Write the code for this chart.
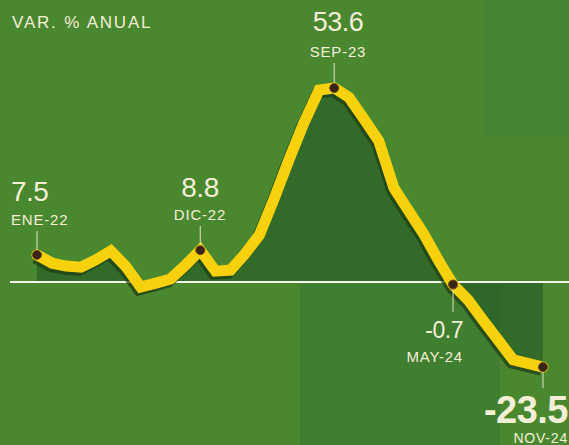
<!DOCTYPE html>
<html>
<head>
<meta charset="utf-8">
<script src="https://cdn.jsdelivr.net/npm/d3@7"></script>
<style>
  body { margin: 0; background: #4a8830; }
  svg { display: block; }
  .lbl { fill: #f3efd6; font-family: "Liberation Sans", Arial, sans-serif; }
</style>
</head>
<body>
<div id="chart"></div>
<script>
// Set height and width for svg
var svgWidth = 569;
var svgHeight = 445;

// Months from ENE-22 to NOV-24
var months = d3.timeMonth.range(new Date(2022, 0, 1), new Date(2024, 11, 1));

// annual % change
var values = [
  7.5, 5.2, 4.4, 4.1, 6.1, 8.6, 4.4, -1.4, -0.3, 0.8, 4.7, 8.8,
  3.0, 3.3, 7.5, 13.0, 23.0, 34.0, 44.0, 53.0, 53.6, 51.0, 45.0, 39.0,
  26.0, 19.5, 13.5, 6.0, -0.7, -5.0, -10.5, -16.0, -21.5, -22.5, -23.5
];

// labelled points
var callIdx = [0, 11, 20, 28, 34];
var callVal = ["7.5", "8.8", "53.6", "-0.7", "-23.5"];
var callMonth = ["ENE-22", "DIC-22", "SEP-23", "MAY-24", "NOV-24"];

var data = months.map(function(m, i) {
  return { date: m, value: values[i] };
});

var svg = d3
  .select("#chart")
  .append("svg")
  .attr("width", svgWidth)
  .attr("height", svgHeight);

// scanned-paper background blocks
svg.append("rect").attr("width", svgWidth).attr("height", svgHeight).attr("fill", "#4a8830");
svg.append("rect").attr("x", 485).attr("y", 0).attr("width", 84).attr("height", 135)
  .attr("fill", "#3f7e3a").attr("opacity", 0.5);
svg.append("rect").attr("x", 300).attr("y", 284).attr("width", 200).attr("height", 161)
  .attr("fill", "#3a7832").attr("opacity", 0.6);

// scales
var xScale = d3
  .scaleTime()
  .domain([months[0], months[months.length - 1]])
  .range([37, 543]);

var yScale = d3
  .scaleLinear()
  .domain([-30, 60])
  .range([390.6, 64.8]);

var area = d3
  .area()
  .x(d => xScale(d.date))
  .y0(yScale(0))
  .y1(d => yScale(d.value));

var line = d3
  .line()
  .x(d => xScale(d.date))
  .y(d => yScale(d.value));

// darker fill between curve and zero
svg.append("path")
  .datum(data)
  .attr("d", area)
  .attr("fill", "#1f5424")
  .attr("opacity", 0.55);

// zero line
svg.append("line")
  .attr("x1", 10)
  .attr("x2", svgWidth)
  .attr("y1", yScale(0))
  .attr("y2", yScale(0))
  .attr("stroke", "#f4f4ec")
  .attr("stroke-width", 2);

// shadow + yellow line
svg.append("path")
  .datum(data)
  .attr("d", line)
  .attr("transform", "translate(-2, 3)")
  .attr("fill", "none")
  .attr("stroke", "#1c3a12")
  .attr("stroke-width", 11)
  .attr("stroke-linejoin", "miter")
  .attr("opacity", 0.7);

svg.append("path")
  .datum(data)
  .attr("d", line)
  .attr("fill", "none")
  .attr("stroke", "#f6d10c")
  .attr("stroke-width", 11)
  .attr("stroke-linejoin", "miter")
  .attr("stroke-linecap", "round");

// callouts
var calls = callIdx.map(function(idx, i) {
  return { d: data[idx], val: callVal[i], month: callMonth[i] };
});

// positions of each callout text
var callPos = [
  { anchor: "start", x: 11, num: 201, mon: 225, size: 28, lead: 210 },
  { anchor: "middle", x: 200, num: 197, mon: 220, size: 28, lead: 206 },
  { anchor: "middle", x: 338, num: 31, mon: 57, size: 27, lead: 63 },
  { anchor: "end", x: 463, num: 338, mon: 362, size: 23, lead: 312 },
  { anchor: "end", x: 568, num: 423, mon: 443, size: 38, lead: 388 }
];

calls.forEach(function(c, i) {
  var p = callPos[i];
  var cx = xScale(c.d.date);
  var cy = yScale(c.d.value);

  // leader line
  svg.append("line")
    .attr("x1", cx)
    .attr("x2", cx)
    .attr("y1", i < 3 ? p.mon + 6 : cy + 5)
    .attr("y2", i < 3 ? cy - 4 : p.lead)
    .attr("stroke", "#e8e4cc")
    .attr("stroke-width", 1.2)
    .attr("opacity", 0.8);

  svg.append("circle")
    .attr("cx", cx)
    .attr("cy", cy)
    .attr("r", 4.5)
    .attr("fill", "#3a2418")
    .attr("stroke", "#6b4a20")
    .attr("stroke-width", 1);

  svg.append("text")
    .attr("class", "lbl")
    .attr("x", p.x)
    .attr("y", p.num)
    .attr("text-anchor", p.anchor)
    .attr("font-size", p.size)
    .attr("font-weight", i === 4 ? "bold" : "normal")
    .attr("letter-spacing", -0.5)
    .text(c.val);

  svg.append("text")
    .attr("class", "lbl")
    .attr("x", p.x)
    .attr("y", p.mon)
    .attr("text-anchor", p.anchor)
    .attr("font-size", i === 4 ? 14 : 15)
    .attr("letter-spacing", 0.8)
    .text(c.month);
});

// title
svg.append("text")
  .attr("class", "lbl")
  .attr("x", 12)
  .attr("y", 28)
  .attr("font-size", 17)
  .attr("letter-spacing", 1.8)
  .text("VAR. % ANUAL");
</script>
</body>
</html>
